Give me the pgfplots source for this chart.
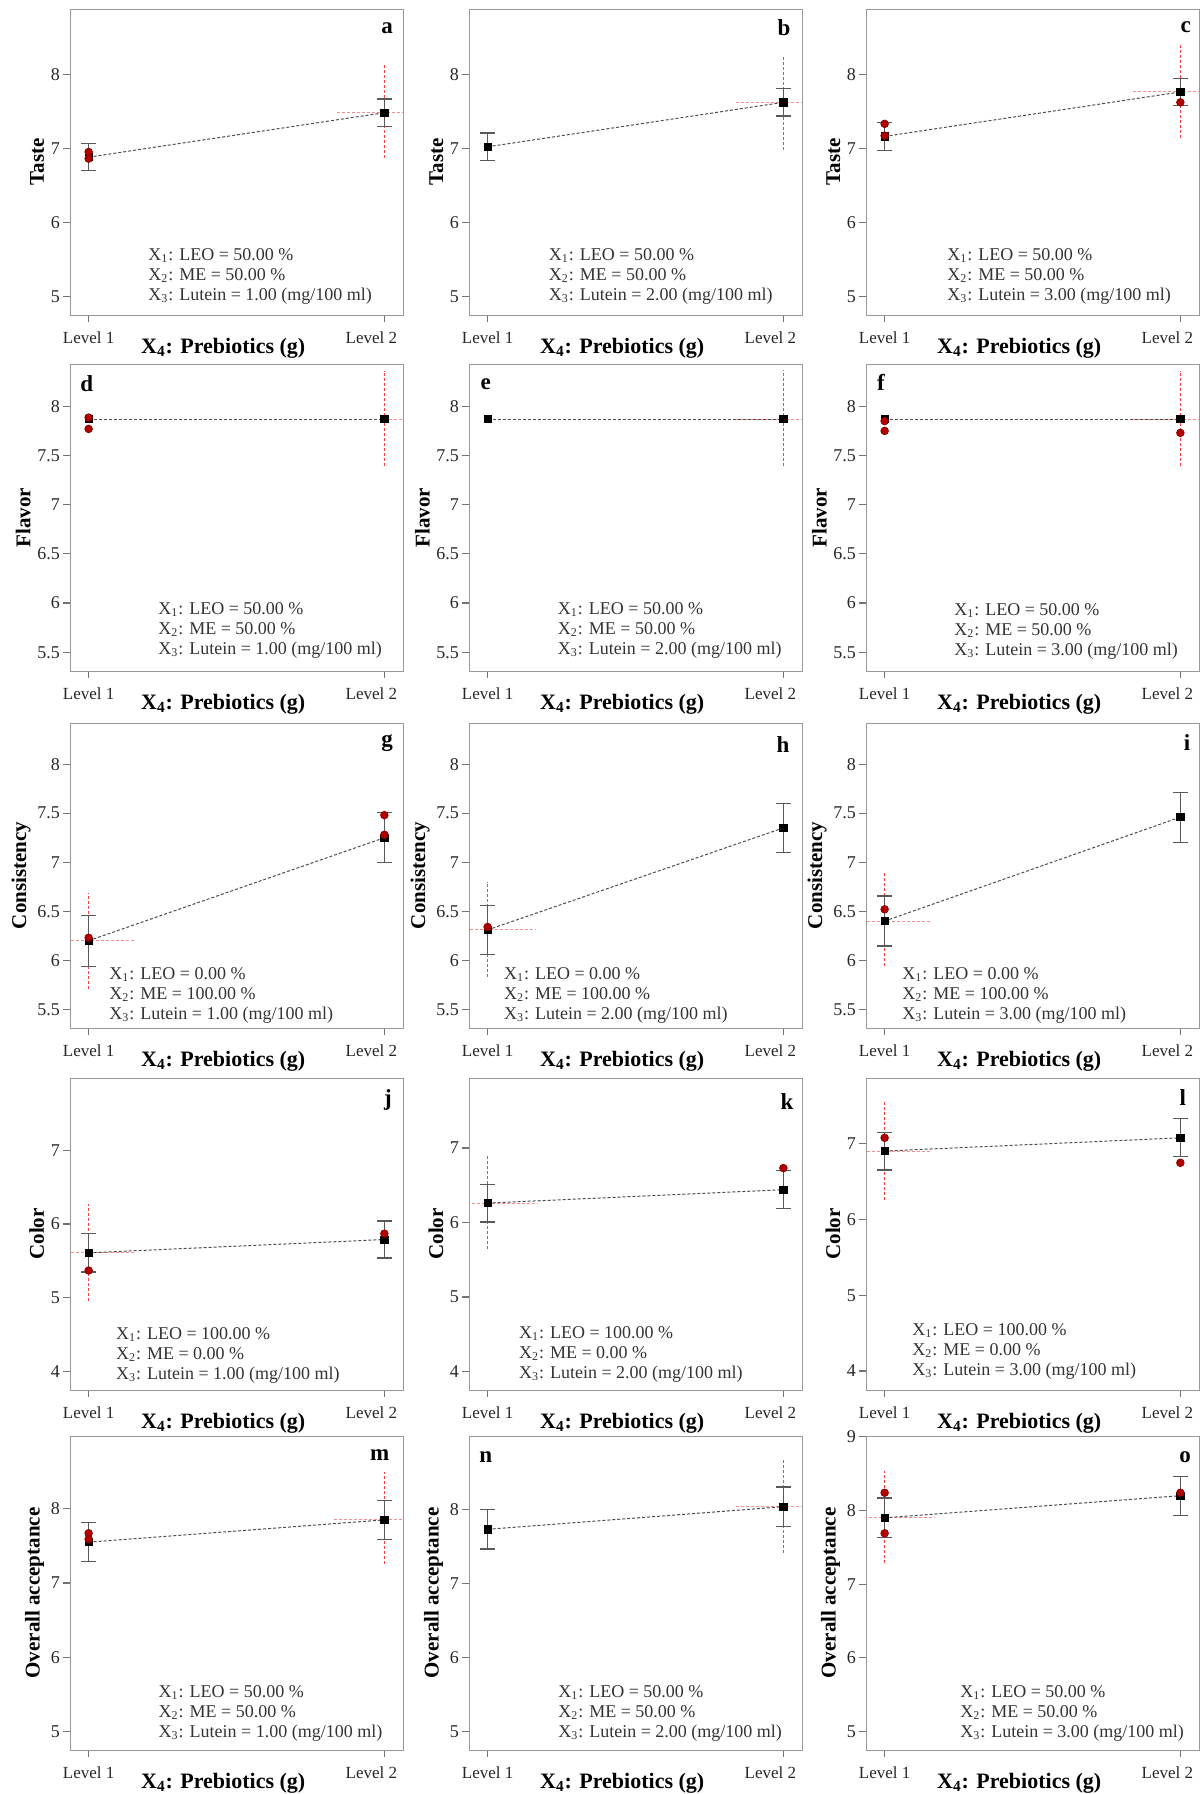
\documentclass[border=0pt]{standalone}
\usepackage{fontspec}
\setmainfont{Liberation Serif}
\usepackage{pgfplots}
\pgfplotsset{compat=1.18}
\definecolor{dred}{HTML}{B00000}
\tikzset{
  annot/.style={anchor=north west, align=left, inner sep=0pt, font=\fontsize{9}{10}\selectfont, text=black!80},
  letter/.style={anchor=center, inner sep=0pt, font=\bfseries\fontsize{11.5}{12}\selectfont},
}
\pgfplotsset{
  panel/.style={scale only axis, width=166.5pt, xmin=0.937, xmax=2.063,
    xtick={1,2}, xticklabels={Level 1,Level 2\hspace*{13pt}}, tick pos=left, tick align=outside,
    major tick length=3.5pt, axis line style={black!40}, tick style={black!55,line width=0.6pt},
    /pgf/number format/assume math mode=true,
    xticklabel style={font=\fontsize{8.5}{10}\selectfont, text=black!85, yshift=-1.5pt},
    yticklabel style={font=\fontsize{9}{10}\selectfont, text=black!85, xshift=2pt},
    xlabel={\textbf{X\textsubscript{4}: Prebiotics (g)}},
    xlabel style={font=\fontsize{11}{12}\selectfont, at={(axis description cs:0.46,0)}, anchor=center, yshift=-16.5pt},
    ylabel style={font=\bfseries\fontsize{10.5}{12}\selectfont, yshift=-3.5pt},
    anchor=south west, clip=true,
  },
  rowT/.style={height=153pt, ymin=4.75, ymax=8.88, ytick={5,6,7,8}, ylabel={Taste}},
  rowF/.style={height=153.5pt, ymin=5.31, ymax=8.43, ytick={5.5,6,6.5,7,7.5,8}, ylabel={Flavor}},
  rowC/.style={height=152.5pt, ymin=5.31, ymax=8.42, ytick={5.5,6,6.5,7,7.5,8}, ylabel={Consistency}},
  rowK/.style={height=156pt, ymin=3.75, ymax=7.96, ytick={4,5,6,7}, ylabel={Color}},
  rowO/.style={height=157pt, ymin=4.75, ymax=8.99, ytick={5,6,7,8,9}, ylabel={Overall acceptance}},
  sq/.style={only marks, mark=square*, mark size=1.8pt, black,
    error bars/.cd, y dir=both, y explicit,
    error bar style={black!65, line width=0.6pt},
    error mark options={black!65, line width=0.6pt, mark size=3.75pt, rotate=90}},
  circ/.style={only marks, mark=*, mark size=1.9pt, mark options={fill=dred, draw=dred!80!black}},
  meanline/.style={black!70, line width=0.5pt, dash pattern=on 1.5pt off 1pt, mark=none},
  crossv/.style={red!75, line width=0.5pt, dash pattern=on 1.5pt off 1pt, mark=none},
  crossh/.style={red!45, line width=0.5pt, dash pattern=on 1.5pt off 1pt, mark=none},
}
\newcommand{\annot}[5]{\node[annot] at (axis description cs:#1,#2) {X\textsubscript{1}: LEO = #3 \%\\X\textsubscript{2}: ME = #4 \%\\X\textsubscript{3}: Lutein = #5 (mg/100 ml)};}
\begin{document}
\begin{tikzpicture}
\path[use as bounding box] (0,0) rectangle (601.5pt,897pt);
% ---------------- Row 1: Taste
\begin{axis}[panel, rowT, at={(35pt,739.5pt)}]
\addplot[crossv] coordinates {(2,6.87) (2,8.13)};
\addplot[crossh] coordinates {(1.84,7.48) (2.16,7.48)};
\addplot[meanline] coordinates {(1,6.88) (2,7.48)};
\addplot[sq] coordinates {(1,6.88) +- (0,0.18) (2,7.48) +- (0,0.185)};
\addplot[circ] coordinates {(1,6.95) (1,6.86)};
\annot{0.234}{0.219}{50.00}{50.00}{1.00}
\node[letter] at (axis description cs:0.952,0.938) {a};
\end{axis}
\begin{axis}[panel, rowT, at={(234.5pt,739.5pt)}]
\addplot[crossv] coordinates {(2,6.98) (2,8.26)};
\addplot[crossh] coordinates {(1.84,7.62) (2.16,7.62)};
\addplot[meanline] coordinates {(1,7.02) (2,7.62)};
\addplot[sq] coordinates {(1,7.02) +- (0,0.185) (2,7.62) +- (0,0.185)};
\annot{0.239}{0.219}{50.00}{50.00}{2.00}
\node[letter] at (axis description cs:0.946,0.94) {b};
\end{axis}
\begin{axis}[panel, rowT, at={(433pt,739.5pt)}]
\addplot[crossv] coordinates {(2,7.14) (2,8.41)};
\addplot[crossh] coordinates {(1.84,7.76) (2.16,7.76)};
\addplot[meanline] coordinates {(1,7.16) (2,7.76)};
\addplot[sq] coordinates {(1,7.16) +- (0,0.19) (2,7.76) +- (0,0.185)};
\addplot[circ] coordinates {(1,7.33) (1,7.17) (2,7.62)};
\annot{0.243}{0.22}{50.00}{50.00}{3.00}
\node[letter] at (axis description cs:0.96,0.94) {c};
\end{axis}
% ---------------- Row 2: Flavor
\begin{axis}[panel, rowF, at={(35pt,561.5pt)}]
\addplot[crossv] coordinates {(2,7.39) (2,8.36)};
\addplot[crossh] coordinates {(1.83,7.87) (2.17,7.87)};
\addplot[meanline] coordinates {(1,7.87) (2,7.87)};
\addplot[sq] coordinates {(1,7.87) (2,7.87)};
\addplot[circ] coordinates {(1,7.885) (1,7.77)};
\annot{0.264}{0.225}{50.00}{50.00}{1.00}
\node[letter] at (axis description cs:0.05,0.935) {d};
\end{axis}
\begin{axis}[panel, rowF, at={(234.5pt,561.5pt)}]
\addplot[crossv] coordinates {(2,7.39) (2,8.37)};
\addplot[crossh] coordinates {(1.84,7.87) (2.16,7.87)};
\addplot[meanline] coordinates {(1,7.87) (2,7.87)};
\addplot[sq] coordinates {(1,7.87) (2,7.87)};
\annot{0.266}{0.224}{50.00}{50.00}{2.00}
\node[letter] at (axis description cs:0.05,0.935) {e};
\end{axis}
\begin{axis}[panel, rowF, at={(433pt,561.5pt)}]
\addplot[crossv] coordinates {(2,7.39) (2,8.36)};
\addplot[crossh] coordinates {(1.84,7.87) (2.16,7.87)};
\addplot[meanline] coordinates {(1,7.87) (2,7.87)};
\addplot[sq] coordinates {(1,7.87) (2,7.87)};
\addplot[circ] coordinates {(1,7.85) (1,7.75) (2,7.73)};
\annot{0.264}{0.222}{50.00}{50.00}{3.00}
\node[letter] at (axis description cs:0.045,0.94) {f};
\end{axis}
% ---------------- Row 3: Consistency
\begin{axis}[panel, rowC, at={(35pt,383pt)}]
\addplot[crossv] coordinates {(1,5.71) (1,6.69)};
\addplot[crossh] coordinates {(0.84,6.20) (1.16,6.20)};
\addplot[meanline] coordinates {(1,6.20) (2,7.25)};
\addplot[sq] coordinates {(1,6.20) +- (0,0.26) (2,7.25) +- (0,0.255)};
\addplot[circ] coordinates {(1,6.23) (2,7.48) (2,7.28)};
\annot{0.117}{0.20}{0.00}{100.00}{1.00}
\node[letter] at (axis description cs:0.952,0.935) {g};
\end{axis}
\begin{axis}[panel, rowC, at={(234.5pt,383pt)}]
\addplot[crossv] coordinates {(1,5.83) (1,6.80)};
\addplot[crossh] coordinates {(0.84,6.31) (1.165,6.31)};
\addplot[meanline] coordinates {(1,6.31) (2,7.35)};
\addplot[sq] coordinates {(1,6.31) +- (0,0.25) (2,7.35) +- (0,0.25)};
\addplot[circ] coordinates {(1,6.34)};
\annot{0.104}{0.20}{0.00}{100.00}{2.00}
\node[letter] at (axis description cs:0.943,0.928) {h};
\end{axis}
\begin{axis}[panel, rowC, at={(433pt,383pt)}]
\addplot[crossv] coordinates {(1,5.94) (1,6.90)};
\addplot[crossh] coordinates {(0.84,6.40) (1.16,6.40)};
\addplot[meanline] coordinates {(1,6.40) (2,7.46)};
\addplot[sq] coordinates {(1,6.40) +- (0,0.255) (2,7.46) +- (0,0.255)};
\addplot[circ] coordinates {(1,6.52)};
\annot{0.108}{0.20}{0.00}{100.00}{3.00}
\node[letter] at (axis description cs:0.964,0.935) {i};
\end{axis}
% ---------------- Row 4: Color
\begin{axis}[panel, rowK, ymax=7.98, at={(35pt,202pt)}]
\addplot[crossv] coordinates {(1,4.96) (1,6.27)};
\addplot[crossh] coordinates {(0.84,5.61) (1.16,5.61)};
\addplot[meanline] coordinates {(1,5.61) (2,5.79)};
\addplot[sq] coordinates {(1,5.61) +- (0,0.26) (2,5.79) +- (0,0.25)};
\addplot[circ] coordinates {(1,5.37) (2,5.87)};
\annot{0.137}{0.20}{100.00}{0.00}{1.00}
\node[letter] at (axis description cs:0.955,0.93) {j};
\end{axis}
\begin{axis}[panel, rowK, ymax=7.94, at={(234.5pt,202pt)}]
\addplot[crossv] coordinates {(1,5.64) (1,6.90)};
\addplot[crossh] coordinates {(0.83,6.26) (1.17,6.26)};
\addplot[meanline] coordinates {(1,6.26) (2,6.44)};
\addplot[sq] coordinates {(1,6.26) +- (0,0.255) (2,6.44) +- (0,0.255)};
\addplot[circ] coordinates {(2,6.73)};
\annot{0.149}{0.205}{100.00}{0.00}{2.00}
\node[letter] at (axis description cs:0.955,0.926) {k};
\end{axis}
\begin{axis}[panel, rowK, ymax=7.87, at={(433pt,202pt)}]
\addplot[crossv] coordinates {(1,6.26) (1,7.55)};
\addplot[crossh] coordinates {(0.84,6.905) (1.16,6.905)};
\addplot[meanline] coordinates {(1,6.905) (2,7.08)};
\addplot[sq] coordinates {(1,6.905) +- (0,0.25) (2,7.08) +- (0,0.25)};
\addplot[circ] coordinates {(1,7.08) (2,6.75)};
\annot{0.138}{0.213}{100.00}{0.00}{3.00}
\node[letter] at (axis description cs:0.951,0.937) {l};
\end{axis}
% ---------------- Row 5: Overall acceptance
\begin{axis}[panel, rowO, ytick={5,6,7,8}, ymax=8.98, at={(35pt,22pt)}]
\addplot[crossv] coordinates {(2,7.25) (2,8.50)};
\addplot[crossh] coordinates {(1.83,7.85) (2.17,7.85)};
\addplot[meanline] coordinates {(1,7.55) (2,7.85)};
\addplot[sq] coordinates {(1,7.55) +- (0,0.265) (2,7.85) +- (0,0.26)};
\addplot[circ] coordinates {(1,7.67) (1,7.59)};
\annot{0.265}{0.207}{50.00}{50.00}{1.00}
\node[letter] at (axis description cs:0.93,0.94) {m};
\end{axis}
\begin{axis}[panel, rowO, ytick={5,6,7,8}, at={(234.5pt,22pt)}]
\addplot[crossv] coordinates {(2,7.415) (2,8.675)};
\addplot[crossh] coordinates {(1.84,8.035) (2.16,8.035)};
\addplot[meanline] coordinates {(1,7.73) (2,8.035)};
\addplot[sq] coordinates {(1,7.73) +- (0,0.265) (2,8.035) +- (0,0.265)};
\annot{0.267}{0.207}{50.00}{50.00}{2.00}
\node[letter] at (axis description cs:0.05,0.934) {n};
\end{axis}
\begin{axis}[panel, rowO, ymax=9.01, at={(433pt,22pt)}]
\addplot[crossv] coordinates {(1,7.29) (1,8.54)};
\addplot[crossh] coordinates {(0.83,7.90) (1.17,7.90)};
\addplot[meanline] coordinates {(1,7.90) (2,8.20)};
\addplot[sq] coordinates {(1,7.90) +- (0,0.27) (2,8.20) +- (0,0.265)};
\addplot[circ] coordinates {(1,8.24) (1,7.69) (2,8.24)};
\annot{0.282}{0.207}{50.00}{50.00}{3.00}
\node[letter] at (axis description cs:0.958,0.934) {o};
\end{axis}
\end{tikzpicture}
\end{document}
